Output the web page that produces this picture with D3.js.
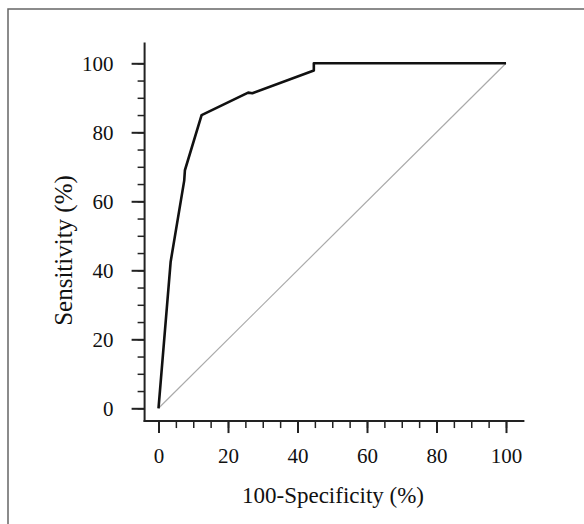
<!DOCTYPE html>
<html>
<head>
<meta charset="utf-8">
<script src="https://cdn.jsdelivr.net/npm/d3@7"></script>
<style>
	body { margin: 0; background: #fff; }
	svg text { font-family: "Liberation Serif", "Times New Roman", serif; fill: #111; }
</style>
</head>
<body>
<div id="chart"></div>
<script>
// ROC curve points (100-specificity, sensitivity)
var fpr = [0, 3.5, 7.4, 7.6, 12.4, 25.8, 27.0, 44.7, 44.7, 100];
var tpr = [0, 42.5, 66, 69, 85, 91.5, 91.3, 97.9, 100, 100];
var refLine = [0, 100];
var majorTicks = [0, 20, 40, 60, 80, 100];
var minorTicks = d3.range(0, 101, 5);

(function() {
	var width = 584, height = 524;

	var svg = d3.select("#chart")
		.append("svg")
		.attr("width", width)
		.attr("height", height);

	// frame
	svg.append("rect")
		.attr("x", 8).attr("y", 9)
		.attr("width", 600).attr("height", 540)
		.attr("fill", "none")
		.attr("stroke", "#666")
		.attr("stroke-width", 1.5);

	var xScale = d3.scaleLinear().domain([0, 100]).range([158.5, 506]);
	var yScale = d3.scaleLinear().domain([0, 100]).range([408.3, 63.3]);

	var axisX = xScale(-4), axisY = yScale(-3.7);

	// minor ticks
	svg.append("g")
		.attr("transform", "translate(" + axisX + ",0)")
		.call(d3.axisLeft(yScale).tickValues(minorTicks).tickSize(7).tickFormat(""))
		.call(function(g) { g.select(".domain").remove(); })
		.selectAll("line").attr("stroke-width", 1.5).attr("stroke", "#222");

	svg.append("g")
		.attr("transform", "translate(0," + axisY + ")")
		.call(d3.axisBottom(xScale).tickValues(minorTicks).tickSize(7).tickFormat(""))
		.call(function(g) { g.select(".domain").remove(); })
		.selectAll("line").attr("stroke-width", 1.5).attr("stroke", "#222");

	// major ticks + labels
	var yAxis = svg.append("g")
		.attr("transform", "translate(" + axisX + ",0)")
		.call(d3.axisLeft(yScale).tickValues(majorTicks).tickSize(13).tickPadding(18))
		.call(function(g) { g.select(".domain").remove(); });
	yAxis.selectAll("line").attr("stroke-width", 2).attr("stroke", "#222");
	yAxis.selectAll("text").attr("font-size", 21).attr("font-family", null).attr("fill", null);

	var xAxis = svg.append("g")
		.attr("transform", "translate(0," + axisY + ")")
		.call(d3.axisBottom(xScale).tickValues(majorTicks).tickSize(12).tickPadding(15))
		.call(function(g) { g.select(".domain").remove(); });
	xAxis.selectAll("line").attr("stroke-width", 2).attr("stroke", "#222");
	xAxis.selectAll("text").attr("font-size", 21).attr("font-family", null).attr("fill", null);

	// axis lines
	svg.append("line")
		.attr("x1", axisX).attr("x2", axisX)
		.attr("y1", yScale(106)).attr("y2", axisY + 1)
		.attr("stroke", "#222").attr("stroke-width", 2);
	svg.append("line")
		.attr("x1", axisX - 1).attr("x2", xScale(105.3))
		.attr("y1", axisY).attr("y2", axisY)
		.attr("stroke", "#222").attr("stroke-width", 2);

	// reference diagonal
	svg.append("line")
		.attr("x1", xScale(refLine[0])).attr("y1", yScale(refLine[0]))
		.attr("x2", xScale(refLine[1])).attr("y2", yScale(refLine[1]))
		.attr("stroke", "#aaa").attr("stroke-width", 1.2);

	var line = d3.line()
		.x(function(d) { return xScale(d[0]) })
		.y(function(d) { return yScale(d[1]) });

	svg.append("path")
		.datum(d3.zip(fpr, tpr))
		.attr("d", line)
		.attr("fill", "none")
		.attr("stroke", "#111")
		.attr("stroke-width", 2.6)
		.attr("stroke-linejoin", "round");

	// titles
	svg.append("text")
		.attr("x", 333)
		.attr("y", 503)
		.attr("text-anchor", "middle")
		.attr("font-size", 23)
		.text("100-Specificity (%)");

	svg.append("text")
		.attr("transform", "translate(72,250.5) rotate(-90)")
		.attr("text-anchor", "middle")
		.attr("font-size", 25)
		.text("Sensitivity (%)");
})();
</script>
</body>
</html>
